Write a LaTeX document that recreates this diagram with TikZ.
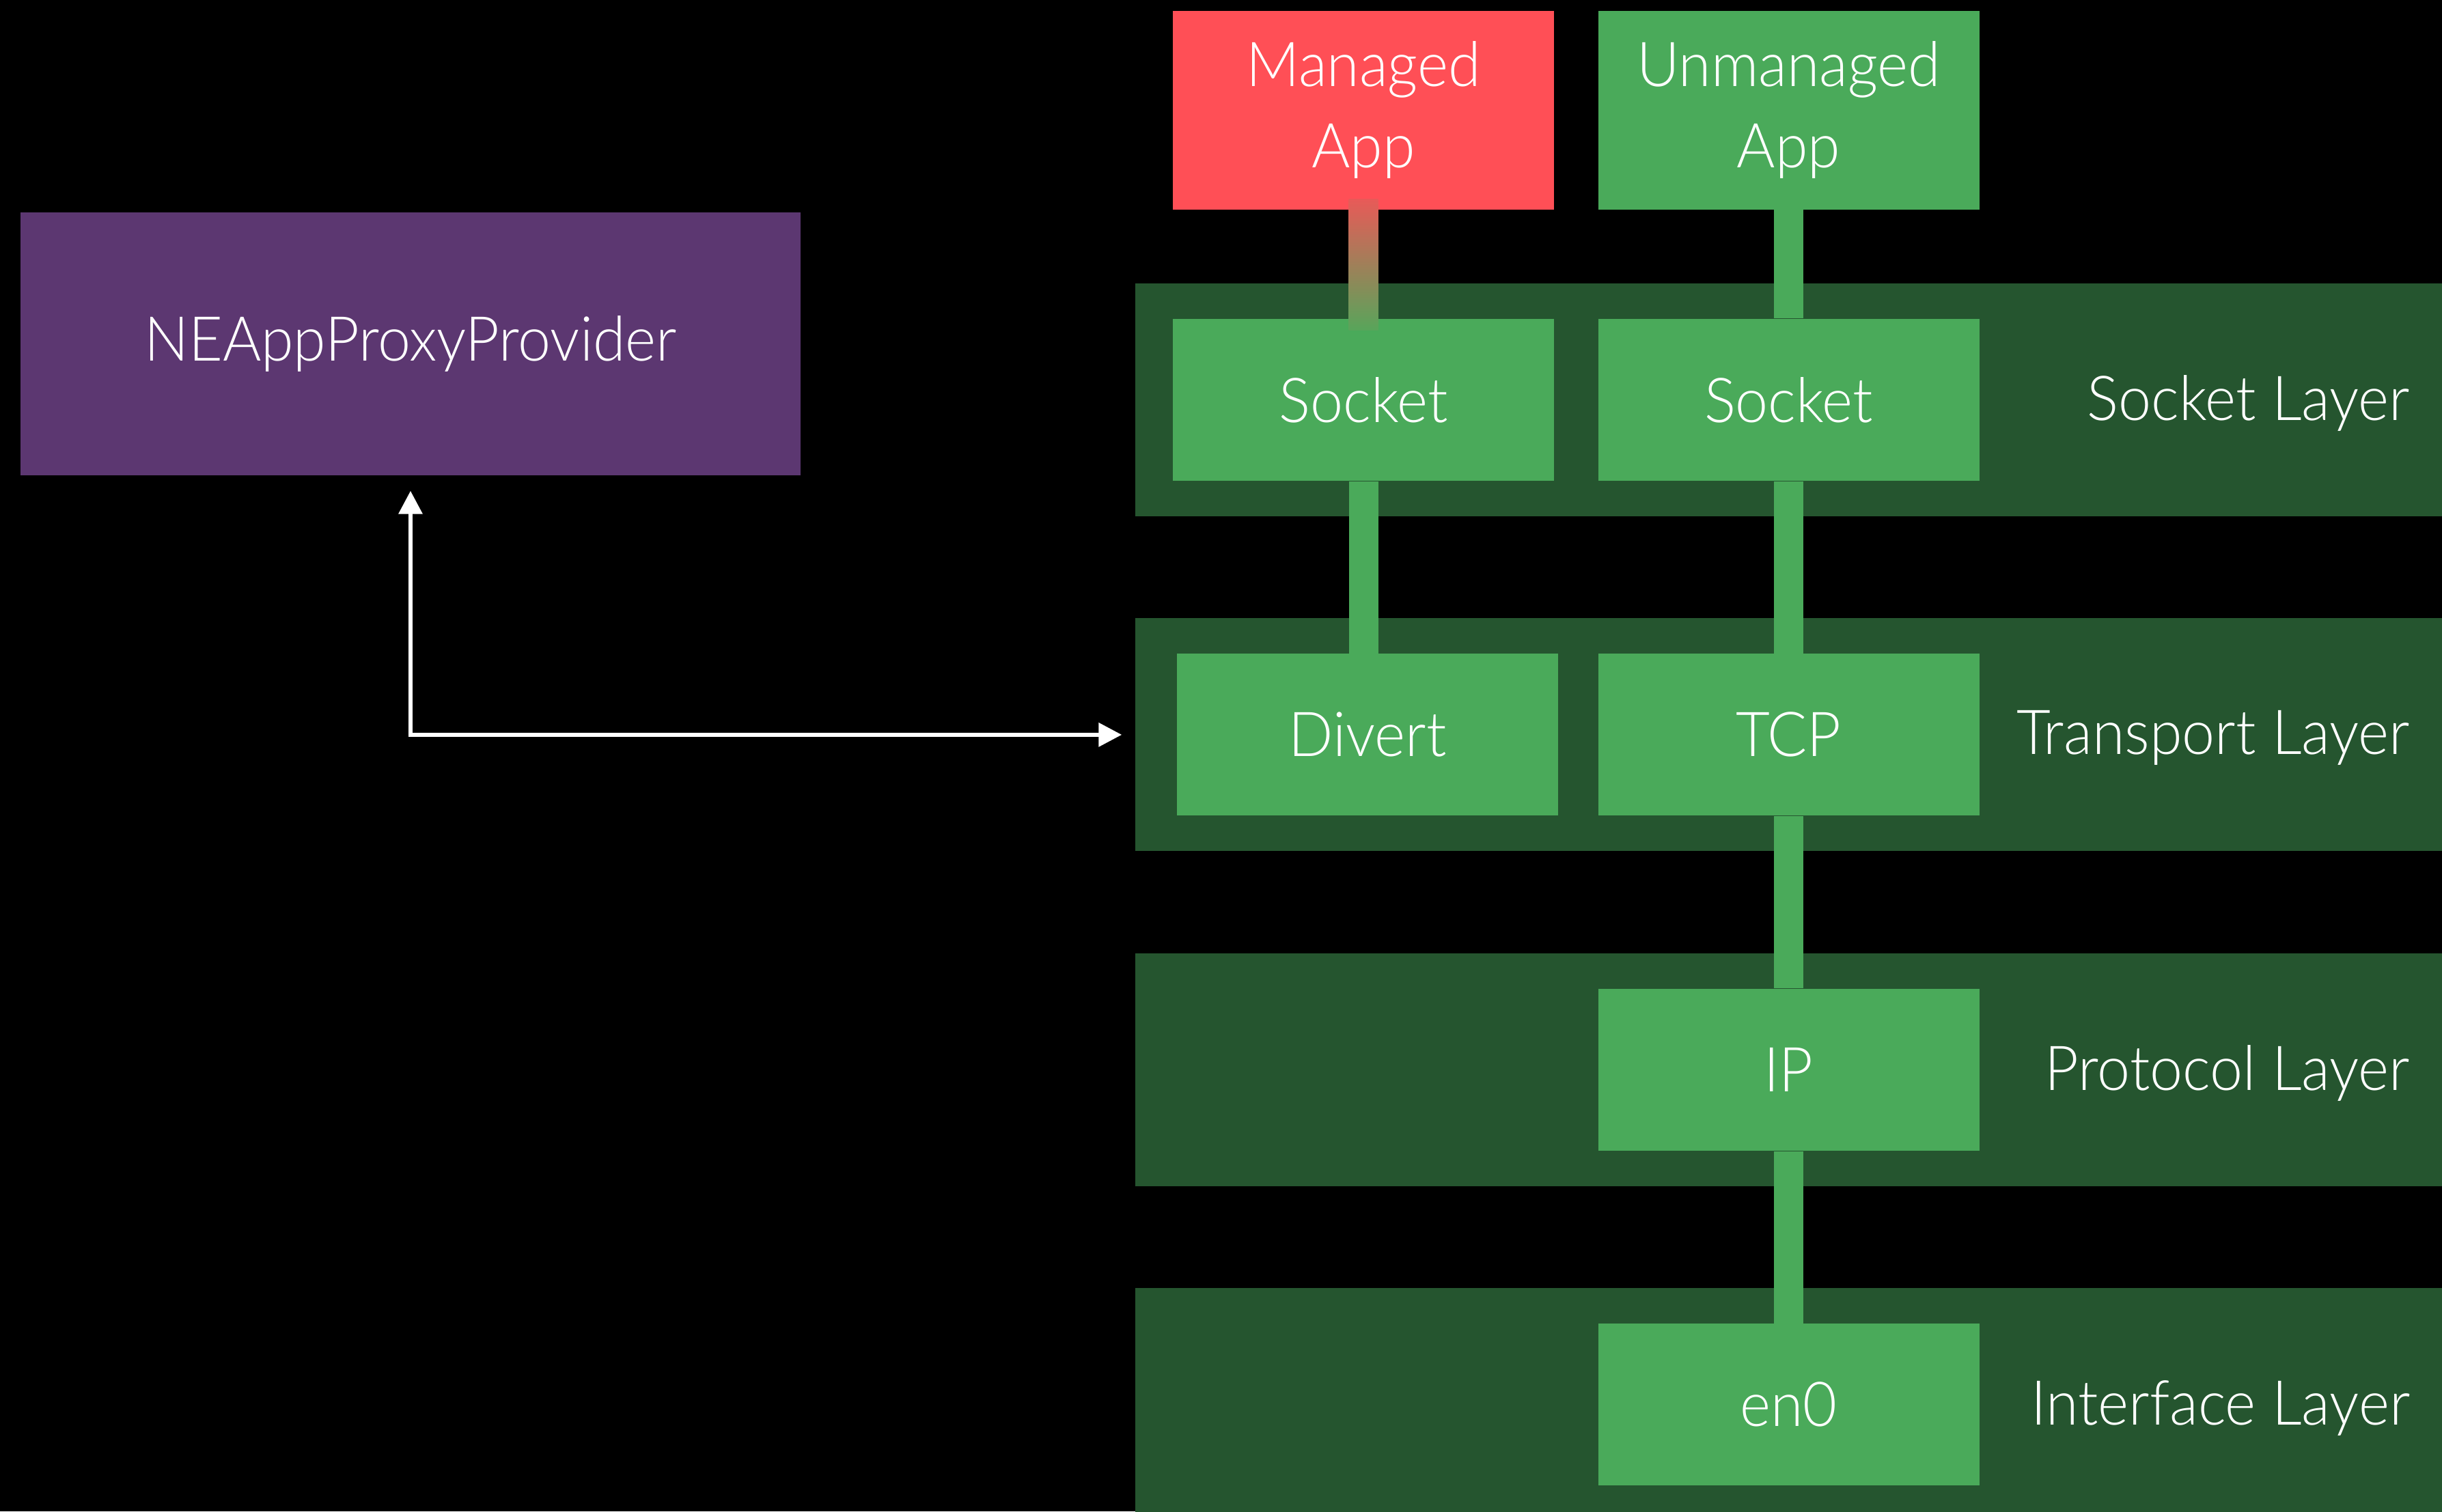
\documentclass[tikz,border=0pt]{standalone}
\usepackage{fontspec}
\setmainfont{Lato}[UprightFont={* Light}, FakeStretch=0.95]
\usetikzlibrary{positioning,arrows.meta}
\definecolor{boxgreen}{RGB}{74,170,90}
\definecolor{bandgreen}{RGB}{37,85,47}
\definecolor{appred}{RGB}{255,79,86}
\definecolor{fadered}{RGB}{232,90,88}
\definecolor{fadegreen}{RGB}{88,165,90}
\definecolor{providerpurple}{RGB}{92,55,113}

\begin{document}
\begin{tikzpicture}
\tikzstyle{layer}=[rectangle, fill=bandgreen, minimum width=19.13cm, minimum height=3.41cm, inner sep=0pt, node distance=1.48cm]
\tikzstyle{block}=[rectangle, fill=boxgreen, text=white, minimum width=5.58cm, minimum height=2.37cm, inner sep=0pt, font=\fontsize{25.8}{33.9}\selectfont, node distance=0.63cm]
\tikzstyle{app}=[block, minimum height=2.91cm, align=center]
\tikzstyle{layername}=[text=white, anchor=east, inner sep=0pt, font=\fontsize{25.8}{33.9}\selectfont]
\tikzstyle{link}=[boxgreen, line width=0.43cm]
\tikzstyle{pointer}=[{Triangle[length=0.34cm,width=0.34cm]}-{Triangle[length=0.34cm,width=0.34cm]}, white, line width=0.065cm]

\fill[black] (0,0) rectangle (35.75,22.13);
\useasboundingbox (0,0) rectangle (35.75,22.13);

% layers
\node[layer] (SocketBand) at (26.185,16.275) {};
\node[layer] (TransportBand) [below=of SocketBand] {};
\node[layer] (ProtocolBand) [below=of TransportBand] {};
\node[layer] (InterfaceBand) [below=of ProtocolBand] {};
\node[layername] (SocketName) at ([xshift=-0.47cm,yshift=-0.05cm]SocketBand.east) {Socket Layer};
\node[layername] (TransportName) at ([xshift=-0.47cm,yshift=-0.05cm]TransportBand.east) {Transport Layer};
\node[layername] (ProtocolName) at ([xshift=-0.47cm,yshift=-0.05cm]ProtocolBand.east) {Protocol Layer};
\node[layername] (InterfaceName) at ([xshift=-0.47cm,yshift=-0.05cm]InterfaceBand.east) {Interface Layer};

% stack
\node[block] (SocketU) at (SocketBand) {Socket};
\node[block] (SocketM) [left=of SocketU] {Socket};
\node[block] (TCP) at (TransportBand) {TCP};
\node[block] (Divert) [left=of TCP, xshift=0.06cm] {Divert};
\node[block] (IP) at (ProtocolBand) {IP};
\node[block] (En0) at (InterfaceBand) {en0};
\node[app] (UnmanagedApp) [above=1.59cm of SocketU] {Unmanaged\\App};
\node[app, fill=appred] (ManagedApp) [left=of UnmanagedApp] {Managed\\App};
\node[block, fill=providerpurple, minimum width=11.42cm, minimum height=3.85cm] (Provider) at (6.01,17.095) {NEAppProxyProvider};

\path
  (UnmanagedApp) edge [link] (SocketU)
  (SocketU) edge [link] (TCP)
  (TCP) edge [link] (IP)
  (IP) edge [link] (En0)
  (SocketM) edge [link] (SocketM |- Divert.north);
\shade[top color=fadered, bottom color=fadegreen] ([xshift=-0.215cm,yshift=0.16cm]ManagedApp.south) rectangle ([xshift=0.215cm,yshift=-0.17cm]SocketM.north);

\draw[pointer] ([yshift=-0.22cm]Provider.south) |- ([xshift=-0.19cm]TransportBand.west);
\end{tikzpicture}
\end{document}
